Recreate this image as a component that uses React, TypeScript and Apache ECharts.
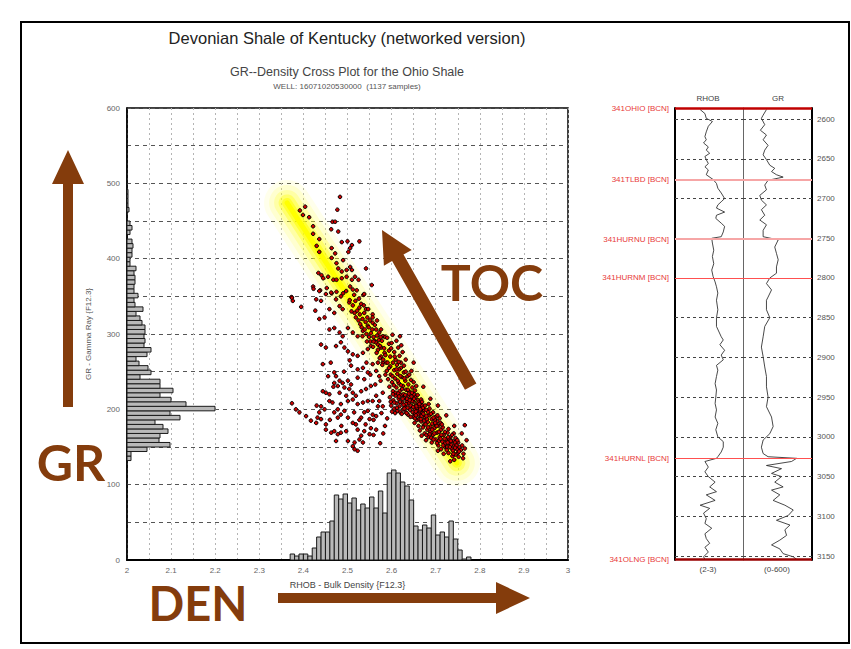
import React, { useEffect, useRef } from 'react';
import * as echarts from 'echarts';

const FONT = '"Liberation Sans", Arial, sans-serif';
const BROWN = '#843c0c';

// ---- crossplot samples [RHOB, GR] ----
const samples: number[][] = [
  [2.483,482],[2.404,469],[2.392,464],[2.399,458],[2.413,455],[2.477,465],[2.422,443],[2.466,449],[2.472,449],
  [2.463,439],[2.479,436],[2.422,433],[2.436,426],[2.487,422],[2.500,423],[2.510,418],[2.506,414],[2.502,409],
  [2.527,423],[2.430,417],[2.464,414],[2.436,409],[2.472,407],[2.464,401],[2.475,394],[2.490,398],[2.506,389],
  [2.479,387],[2.487,383],[2.498,385],[2.510,385],[2.542,387],[2.434,381],[2.441,378],[2.445,374],[2.456,376],
  [2.468,372],[2.475,372],[2.487,374],[2.498,376],[2.510,372],[2.517,376],[2.525,372],[2.373,349],[2.422,363],
  [2.438,358],[2.453,361],[2.464,354],[2.475,356],[2.490,354],[2.506,363],[2.521,358],[2.536,352],[2.555,365],
  [2.374,348],[2.376,344],[2.395,336],[2.423,360],[2.436,357],[2.429,346],[2.440,344],[2.451,353],[2.463,355],
  [2.474,346],[2.485,350],[2.497,357],[2.512,359],[2.538,353],[2.427,331],[2.436,320],[2.448,322],[2.459,333],
  [2.470,328],[2.482,337],[2.489,333],[2.504,342],[2.516,328],[2.527,335],[2.542,333],[2.557,326],[2.459,306],
  [2.470,308],[2.482,302],[2.489,297],[2.501,308],[2.512,302],[2.523,297],[2.535,304],[2.546,311],[2.557,315],
  [2.565,306],[2.572,302],[2.580,297],[2.440,286],[2.451,282],[2.474,284],[2.485,289],[2.493,282],[2.501,277],
  [2.512,273],[2.523,271],[2.535,275],[2.546,280],[2.553,284],[2.561,291],[2.569,286],[2.576,282],[2.584,275],
  [2.444,260],[2.508,258],[2.523,253],[2.535,255],[2.546,249],[2.557,260],[2.565,251],[2.572,244],[2.580,262],
  [2.470,249],[2.474,244],[2.482,238],[2.489,235],[2.501,238],[2.508,233],[2.523,242],[2.538,240],[2.444,224],
  [2.451,222],[2.459,220],[2.470,235],[2.478,231],[2.482,222],[2.493,229],[2.504,227],[2.512,222],[2.519,218],
  [2.531,224],[2.542,227],[2.553,231],[2.565,218],[2.572,211],[2.580,222],[2.440,204],[2.459,211],[2.466,209],
  [2.478,200],[2.485,207],[2.501,211],[2.512,213],[2.523,207],[2.535,209],[2.546,211],[2.557,211],[2.569,204],
  [2.580,204],[2.374,208],[2.383,200],[2.391,196],[2.406,191],[2.417,185],[2.429,182],[2.432,189],[2.436,196],
  [2.440,187],[2.451,180],[2.470,196],[2.478,189],[2.485,193],[2.493,198],[2.501,189],[2.512,182],[2.519,180],
  [2.531,189],[2.538,196],[2.546,198],[2.550,187],[2.565,191],[2.451,173],[2.463,169],[2.470,171],[2.478,167],
  [2.485,169],[2.497,171],[2.523,173],[2.531,165],[2.538,171],[2.550,167],[2.565,173],[2.501,158],[2.516,156],
  [2.527,160],[2.535,156],[2.512,151],[2.523,145],[2.516,147],
  [2.505,345],[2.512,338],[2.518,344],[2.522,331],[2.528,326],[2.531,340],[2.534,320],[2.538,328],[2.541,316],
  [2.545,322],[2.548,309],[2.551,318],[2.553,301],[2.556,306],[2.559,296],[2.562,312],[2.564,289],[2.567,298],
  [2.569,279],[2.571,292],[2.574,284],[2.576,270],[2.578,291],[2.581,266],[2.583,281],[2.586,272],[2.588,262],
  [2.525,318],[2.532,309],[2.543,300],[2.552,290],[2.558,283],[2.566,275],[2.573,268],[2.579,259],[2.515,352],
  [2.526,347],[2.537,338],[2.547,333],[2.557,322],[2.567,318],[2.576,306],[2.585,296],[2.594,287],
  [2.590,295],[2.594,278],[2.597,270],[2.600,288],[2.603,262],[2.606,276],[2.609,266],[2.612,259],[2.615,282],
  [2.618,271],[2.621,262],[2.625,276],[2.628,258],[2.632,266],[2.602,299],[2.611,291],[2.619,297],
  [2.589,251],[2.592,240],[2.595,230],[2.598,246],[2.601,236],[2.603,224],[2.606,252],[2.608,241],[2.611,229],
  [2.613,247],[2.616,235],[2.618,224],[2.621,255],[2.623,243],[2.626,231],[2.628,249],[2.631,238],[2.633,226],
  [2.636,244],[2.638,233],[2.641,223],[2.644,239],[2.647,229],[2.650,236],[2.653,225],[2.656,231],[2.597,257],
  [2.605,232],[2.614,238],[2.624,227],[2.632,250],[2.640,246],[2.617,253],[2.609,222],[2.629,241],[2.645,251],
  [2.596,216],[2.599,205],[2.601,197],[2.604,212],[2.606,201],[2.609,218],[2.611,208],[2.613,198],[2.616,214],
  [2.618,204],[2.620,196],[2.622,219],[2.624,209],[2.626,200],[2.628,215],[2.630,205],[2.632,196],[2.634,211],
  [2.636,202],[2.638,218],[2.640,208],[2.642,199],[2.644,213],[2.646,204],[2.648,196],[2.650,210],[2.652,201],
  [2.654,216],[2.656,206],[2.658,198],[2.660,212],[2.662,203],[2.664,196],[2.666,208],[2.668,200],[2.670,205],
  [2.603,220],[2.615,221],[2.627,220],[2.639,221],[2.651,220],[2.608,195],[2.623,194],[2.637,193],[2.653,194],
  [2.619,210],[2.633,207],[2.647,211],[2.661,209],[2.612,202],[2.629,201],[2.643,205],[2.657,202],[2.598,210],
  [2.674,199],[2.617,217],[2.645,217],[2.667,213],[2.606,209],[2.635,214],
  [2.649,190],[2.652,182],[2.655,197],[2.658,186],[2.661,178],[2.664,193],[2.667,184],[2.670,195],[2.673,179],
  [2.676,189],[2.679,199],[2.682,183],[2.685,192],[2.688,177],[2.691,187],[2.694,196],[2.697,181],[2.700,190],
  [2.703,184],[2.706,178],[2.709,188],[2.656,204],[2.671,202],[2.686,201],[2.662,187],[2.677,180],[2.692,181],
  [2.668,191],[2.683,196],[2.698,186],[2.674,185],[2.689,194],[2.704,192],[2.659,193],[2.680,187],[2.695,189],
  [2.665,200],[2.701,179],[2.653,188],[2.711,182],
  [2.664,172],[2.668,165],[2.671,176],[2.675,168],[2.678,159],[2.681,173],[2.684,163],[2.688,170],[2.691,156],
  [2.694,166],[2.697,175],[2.700,160],[2.703,169],[2.706,152],[2.709,163],[2.712,173],[2.715,157],[2.718,166],
  [2.721,150],[2.724,160],[2.727,169],[2.730,155],[2.733,163],[2.736,148],[2.739,158],[2.742,152],[2.745,162],
  [2.748,147],[2.751,156],[2.754,150],[2.702,178],[2.716,176],[2.729,174],[2.741,168],[2.690,162],[2.707,158],
  [2.722,155],[2.735,153],[2.744,156],[2.712,147],[2.726,150],[2.739,145],[2.750,142],[2.679,166],[2.697,168],
  [2.713,166],[2.731,160],[2.747,152],[2.720,161],[2.734,158],
  [2.757,146],[2.760,152],[2.763,141],[2.745,140],[2.738,138],[2.752,137],[2.729,142],[2.759,168],[2.770,159],
  [2.766,148],[2.742,133],[2.733,131],[2.718,141],[2.705,145],[2.762,135],
  [2.672,230],[2.688,214],[2.705,205],[2.724,192],[2.742,178],[2.766,179],[2.650,262],
  [2.559,166],[2.574,155],[2.581,168],[2.559,186],[2.585,178],[2.590,188],[2.577,195],
  [2.586,246],[2.591,262],[2.594,255],[2.599,281],[2.602,244],[2.607,270],[2.611,253],[2.616,263],[2.620,244],
  [2.622,285],[2.621,232],[2.625,214],[2.627,206],[2.631,219],[2.634,195],[2.637,226],[2.641,212],[2.643,190],
  [2.646,222],[2.649,203],[2.651,214],[2.655,192],[2.659,219],[2.663,207],[2.666,187],[2.669,210],[2.672,194],
  [2.676,205],[2.679,191],[2.684,207],[2.683,176],[2.686,167],[2.692,173],[2.695,160],[2.699,182],[2.703,155],
  [2.707,170],[2.711,161],[2.714,180],[2.717,152],[2.721,170],[2.725,146],[2.728,163],[2.732,150],[2.737,166],
  [2.740,141],[2.744,149],[2.749,159],[2.753,144],[2.727,156],[2.509,330],[2.519,322],[2.529,313],[2.539,306],
  [2.549,296],[2.559,290],[2.569,262],[2.575,296],[2.544,290],[2.534,297],[2.462,262],[2.456,244],[2.468,230],
  [2.492,250],[2.497,218],[2.515,196],[2.527,186],[2.541,180],[2.553,175],[2.486,178],[2.474,158],[2.460,186],
  [2.448,200],[2.430,205],[2.505,265],[2.552,246],[2.563,233],[2.575,238],[2.543,262],[2.557,193],
];

// ---- trend band (RHOB, GR) ----
const bandRhob = [2.363, 2.748];
const bandGr = [474, 129];

// ---- GR histogram (bins of 6 API from 132) ----
const grBinLow = [132,138,144,150,156,162,168,174,180,186,192,198,204,210,216,222,228,234,240,246,252,258,264,270,276,282,288,294,300,306,312,318,324,330,336,342,348,354,360,366,372,378,384,390,396,402,408,414,420,426,432,438,444,450,456,462,468,474,480,486];
const grBinCount = [4,4,20,43,32,33,41,36,28,53,43,88,59,44,33,46,33,33,13,24,21,12,9,20,24,17,18,17,18,18,15,13,9,16,8,7,11,7,7,8,8,7,9,3,3,5,5,6,5,0,3,5,3,0,0,2,1,1,1,1];
const grBinWidth = 6;

// ---- RHOB histogram (bins of 0.01 from 2.37) ----
const rhobBinLow = [2.37,2.38,2.39,2.40,2.41,2.42,2.43,2.44,2.45,2.46,2.47,2.48,2.49,2.50,2.51,2.52,2.53,2.54,2.55,2.56,2.57,2.58,2.59,2.60,2.61,2.62,2.63,2.64,2.65,2.66,2.67,2.68,2.69,2.70,2.71,2.72,2.73,2.74,2.75,2.76,2.77];
const rhobBinCount = [6,4,6,6,4,12,23,28,28,39,65,61,66,57,62,50,56,52,63,52,69,47,87,90,87,78,74,60,34,30,35,32,45,25,28,23,39,21,10,1,3];
const rhobBinWidth = 0.01;

// ---- log track ----
const rhobLog: number[][] = [
  [2588,2.37],[2593,2.44],[2599,2.46],[2603,2.55],[2609,2.49],[2616,2.46],[2622,2.44],[2626,2.46],[2630,2.42],
  [2635,2.49],[2639,2.46],[2643,2.51],[2647,2.44],[2651,2.46],[2656,2.49],[2660,2.44],[2664,2.49],[2670,2.46],
  [2676,2.56],[2681,2.61],[2687,2.63],[2693,2.68],[2700,2.73],[2704,2.68],[2708,2.63],[2712,2.61],[2717,2.73],
  [2721,2.61],[2725,2.60],[2731,2.68],[2735,2.73],[2742,2.71],[2748,2.68],[2750,2.54],[2756,2.55],[2765,2.57],
  [2773,2.55],[2782,2.57],[2790,2.54],[2798,2.56],[2805,2.59],[2811,2.61],[2819,2.63],[2828,2.61],[2840,2.63],
  [2850,2.61],[2861,2.61],[2874,2.68],[2878,2.71],[2884,2.66],[2891,2.73],[2897,2.68],[2903,2.71],[2910,2.61],
  [2916,2.63],[2924,2.61],[2933,2.59],[2941,2.61],[2950,2.60],[2958,2.59],[2966,2.61],[2975,2.59],[2983,2.63],
  [2991,2.60],[3000,2.63],[3006,2.71],[3013,2.71],[3019,2.68],[3025,2.63],[3027,2.61],[3031,2.44],[3038,2.49],
  [3044,2.44],[3050,2.49],[3057,2.59],[3063,2.51],[3069,2.61],[3073,2.46],[3080,2.59],[3086,2.37],[3090,2.51],
  [3096,2.42],[3103,2.46],[3109,2.44],[3115,2.54],[3122,2.44],[3128,2.46],[3134,2.51],[3139,2.44],[3145,2.49],
  [3151,2.42],[3154,2.44],
];
const grLog: number[][] = [
  [2588,204],[2595,175],[2599,160],[2607,189],[2614,151],[2620,204],[2626,175],[2633,218],[2639,189],[2645,175],
  [2651,204],[2658,233],[2662,276],[2666,248],[2670,291],[2673,349],[2677,218],[2683,189],[2689,204],[2696,146],
  [2702,160],[2708,204],[2714,160],[2721,189],[2727,146],[2733,204],[2740,175],[2748,175],[2752,306],[2761,276],
  [2769,291],[2777,306],[2786,291],[2794,291],[2800,233],[2807,204],[2815,248],[2824,218],[2828,204],[2840,204],
  [2850,233],[2861,189],[2874,175],[2887,160],[2899,175],[2912,189],[2924,204],[2937,204],[2950,218],[2962,204],
  [2975,248],[2987,262],[2996,233],[3004,175],[3013,160],[3021,175],[3025,218],[3027,466],[3031,422],[3036,204],
  [3040,335],[3046,248],[3050,335],[3057,276],[3063,349],[3067,248],[3073,320],[3080,262],[3086,364],[3092,437],
  [3099,393],[3105,291],[3111,408],[3117,364],[3124,379],[3130,320],[3136,248],[3141,320],[3147,349],[3151,437],
  [3154,466],
];
const depthTicks = [2600,2650,2700,2750,2800,2850,2900,2950,3000,3050,3100,3150];
const topNames = ['341OHIO [BCN]','341TLBD [BCN]','341HURNU [BCN]','341HURNM [BCN]','341HURNL [BCN]','341OLNG [BCN]'];
const topDepths = [2586, 2676, 2751, 2800, 3027, 3154];
const topColors = ['#c00000','#f6a6a6','#f6a6a6','#ff5050','#ff5050','#990000'];
const topWidths = [2.5, 2, 2, 1, 1, 2.5];
const depthMin = 2586;
const depthMax = 3155;

function histRectStyle() {
  return { fill: '#b9b9b9', stroke: '#1a1a1a', lineWidth: 1 };
}

function centered(text: string, x: number, y: number, font: string, fill: string, z = 1) {
  return {
    type: 'text', x, y, z,
    style: { text, fill, font, align: 'center', verticalAlign: 'middle', textAlign: 'center', textVerticalAlign: 'middle' },
  };
}

function buildOption(): any {
  const bandLayers = [
    { w: 46, c: 'rgba(255,255,60,0.10)' },
    { w: 36, c: 'rgba(255,255,40,0.14)' },
    { w: 26, c: 'rgba(255,255,20,0.22)' },
    { w: 17, c: 'rgba(255,255,0,0.35)' },
    { w: 10, c: 'rgba(255,255,0,0.55)' },
    { w: 5, c: '#ffff00' },
  ];
  const bandData = bandRhob.map((r, i) => [r, bandGr[i]]);
  const bandSeries = bandLayers.map((l) => ({
    type: 'line', xAxisIndex: 0, yAxisIndex: 0, data: bandData, symbol: 'none', silent: true, z: 2,
    lineStyle: { width: l.w, color: l.c, cap: 'round' },
  }));

  const depthLines = (withLabel: boolean) => depthTicks.map((d) => ({
    yAxis: d,
    lineStyle: { color: '#444', type: [3, 3], width: 1 },
    label: withLabel
      ? { show: true, position: 'end', formatter: String(d), color: '#555', fontSize: 8, fontFamily: FONT, distance: 5 }
      : { show: false },
  }));
  const topLines = (withLabel: boolean) => topDepths.map((d, i) => ({
    yAxis: d,
    lineStyle: { color: topColors[i], type: 'solid', width: topWidths[i] },
    label: withLabel
      ? { show: true, position: 'start', formatter: topNames[i], color: '#e83a3a', fontSize: 8, fontFamily: FONT, distance: 6 }
      : { show: false },
  }));

  const vGrid = { color: '#b4b4b4', type: [2, 3], width: 1 };
  const hGrid = { color: '#555', type: [4, 4], width: 1 };

  return {
    animation: false,
    backgroundColor: '#ffffff',
    textStyle: { fontFamily: FONT },
    grid: [
      { left: 127, top: 108, width: 441, height: 452, show: true, borderColor: '#000', borderWidth: 1.5, backgroundColor: 'transparent' },
      { left: 675, top: 108, width: 68, height: 452 },
      { left: 743, top: 108, width: 69, height: 452 },
    ],
    xAxis: [
      {
        gridIndex: 0, type: 'value', min: 2, max: 3, interval: 0.1,
        axisLine: { show: true, onZero: false, lineStyle: { color: '#000', width: 2 } },
        axisTick: { show: false },
        minorTick: { show: false, splitNumber: 2 },
        axisLabel: {
          color: '#666', fontSize: 8, margin: 6, fontFamily: FONT,
          formatter: (v: number) => String(Math.round(v * 10) / 10),
        },
        splitLine: { show: true, lineStyle: vGrid },
        minorSplitLine: { show: true, lineStyle: vGrid },
        name: 'RHOB - Bulk Density {F12.3}', nameLocation: 'middle', nameGap: 20,
        nameTextStyle: { color: '#444', fontSize: 9, fontFamily: FONT },
      },
      { gridIndex: 0, type: 'value', min: 0, max: 441, show: false },
      { gridIndex: 1, type: 'value', min: 2, max: 3, show: false },
      { gridIndex: 2, type: 'value', min: 0, max: 600, show: false },
    ],
    yAxis: [
      {
        gridIndex: 0, type: 'value', min: 0, max: 600, interval: 100,
        axisLine: { show: true, onZero: false, lineStyle: { color: '#000', width: 1.5 } },
        axisTick: { show: false },
        minorTick: { show: false, splitNumber: 2 },
        axisLabel: { color: '#666', fontSize: 8, margin: 7, fontFamily: FONT },
        splitLine: { show: true, lineStyle: hGrid },
        minorSplitLine: { show: true, lineStyle: hGrid },
        name: 'GR - Gamma Ray {F12.3}', nameLocation: 'middle', nameGap: 35, nameRotate: 90,
        nameTextStyle: { color: '#555', fontSize: 8, fontFamily: FONT },
      },
      { gridIndex: 0, type: 'value', min: 0, max: 452, show: false },
      {
        gridIndex: 1, type: 'value', min: depthMin, max: depthMax, inverse: true, position: 'left',
        axisLine: { show: true, onZero: false, lineStyle: { color: '#000', width: 2 } },
        axisTick: { show: false }, axisLabel: { show: false }, splitLine: { show: false },
      },
      {
        gridIndex: 2, type: 'value', min: depthMin, max: depthMax, inverse: true, position: 'right',
        axisLine: { show: true, onZero: false, lineStyle: { color: '#000', width: 2 } },
        axisTick: { show: false }, axisLabel: { show: false }, splitLine: { show: false },
      },
      {
        gridIndex: 2, type: 'value', min: depthMin, max: depthMax, inverse: true, position: 'left',
        axisLine: { show: true, onZero: false, lineStyle: { color: '#666', width: 1 } },
        axisTick: { show: false }, axisLabel: { show: false }, splitLine: { show: false },
      },
    ],
    series: [
      ...bandSeries,
      {
        type: 'custom', xAxisIndex: 1, yAxisIndex: 0, z: 3, silent: true,
        data: grBinLow.map((lo, i) => [lo, lo + grBinWidth, grBinCount[i]]),
        encode: { x: 2, y: [0, 1] },
        renderItem: (_p: any, api: any) => {
          const lo = api.value(0), hi = api.value(1), n = api.value(2);
          if (!n) return null;
          const a = api.coord([0, hi]);
          const b = api.coord([n, lo]);
          return { type: 'rect', shape: { x: a[0], y: a[1], width: b[0] - a[0], height: b[1] - a[1] }, style: histRectStyle() };
        },
      },
      {
        type: 'custom', xAxisIndex: 0, yAxisIndex: 1, z: 3, silent: true,
        data: rhobBinLow.map((lo, i) => [lo, lo + rhobBinWidth, rhobBinCount[i]]),
        encode: { x: [0, 1], y: 2 },
        renderItem: (_p: any, api: any) => {
          const lo = api.value(0), hi = api.value(1), n = api.value(2);
          if (!n) return null;
          const a = api.coord([lo, n]);
          const b = api.coord([hi, 0]);
          return { type: 'rect', shape: { x: a[0], y: a[1], width: b[0] - a[0], height: b[1] - a[1] }, style: histRectStyle() };
        },
      },
      {
        type: 'scatter', xAxisIndex: 0, yAxisIndex: 0, z: 5, data: samples, symbol: 'circle', symbolSize: 3.6,
        itemStyle: { color: '#d00000', borderColor: '#000', borderWidth: 1, opacity: 1 },
      },
      {
        type: 'line', xAxisIndex: 2, yAxisIndex: 2, z: 4, symbol: 'none',
        data: rhobLog.map(([d, v]) => [v, d]),
        lineStyle: { color: '#1a1a1a', width: 0.8 },
        markLine: { silent: true, symbol: ['none', 'none'], animation: false, data: [...depthLines(false), ...topLines(true)] },
      },
      {
        type: 'line', xAxisIndex: 3, yAxisIndex: 3, z: 4, symbol: 'none',
        data: grLog.map(([d, v]) => [v, d]),
        lineStyle: { color: '#1a1a1a', width: 0.8 },
        markLine: { silent: true, symbol: ['none', 'none'], animation: false, data: [...depthLines(true), ...topLines(false)] },
      },
    ],
    graphic: [
      { type: 'rect', z: 0, shape: { x: 21, y: 22, width: 828, height: 621 }, style: { fill: 'none', stroke: '#000', lineWidth: 2 } },
      centered('Devonian Shale of Kentucky (networked version)', 347, 38, `16.5px ${FONT}`, '#222'),
      centered('GR--Density Cross Plot for the Ohio Shale', 347, 72, `12.5px ${FONT}`, '#444'),
      centered('WELL: 16071020530000  (1137 samples)', 347, 86, `8px ${FONT}`, '#555'),
      centered('RHOB', 708, 98, `8px ${FONT}`, '#444'),
      centered('GR', 778, 98, `8px ${FONT}`, '#444'),
      centered('(2-3)', 708, 569, `8px ${FONT}`, '#444'),
      centered('(0-600)', 777, 569, `8px ${FONT}`, '#444'),
      { type: 'polygon', z: 10, shape: { points: [[63,407],[73,407],[73,184],[84,184],[68,150],[52,184],[63,184]] }, style: { fill: BROWN } },
      { type: 'polygon', z: 10, shape: { points: [[278,593],[496,593],[496,582],[530,598],[496,614],[496,603],[278,603]] }, style: { fill: BROWN } },
      { type: 'polygon', z: 10, shape: { points: [[382,230],[411.7,249.9],[403.5,254.6],[476.4,383.4],[465,389.8],[392.1,261],[383.9,265.7]] }, style: { fill: BROWN } },
      centered('GR', 71, 462, 'bold 50px Lato', BROWN, 10),
      centered('DEN', 198, 603, 'bold 47px Lato', BROWN, 10),
      centered('TOC', 492, 282, 'bold 50px Lato', BROWN, 10),
    ],
  };
}

export default function App() {
  const ref = useRef<HTMLDivElement>(null);
  useEffect(() => {
    if (!ref.current) return;
    const chart = echarts.init(ref.current, undefined, { renderer: 'svg' });
    chart.setOption(buildOption());
    return () => chart.dispose();
  }, []);
  return <div ref={ref} style={{ position: 'fixed', left: 0, top: 0, width: 851, height: 649, background: '#fff' }} />;
}
